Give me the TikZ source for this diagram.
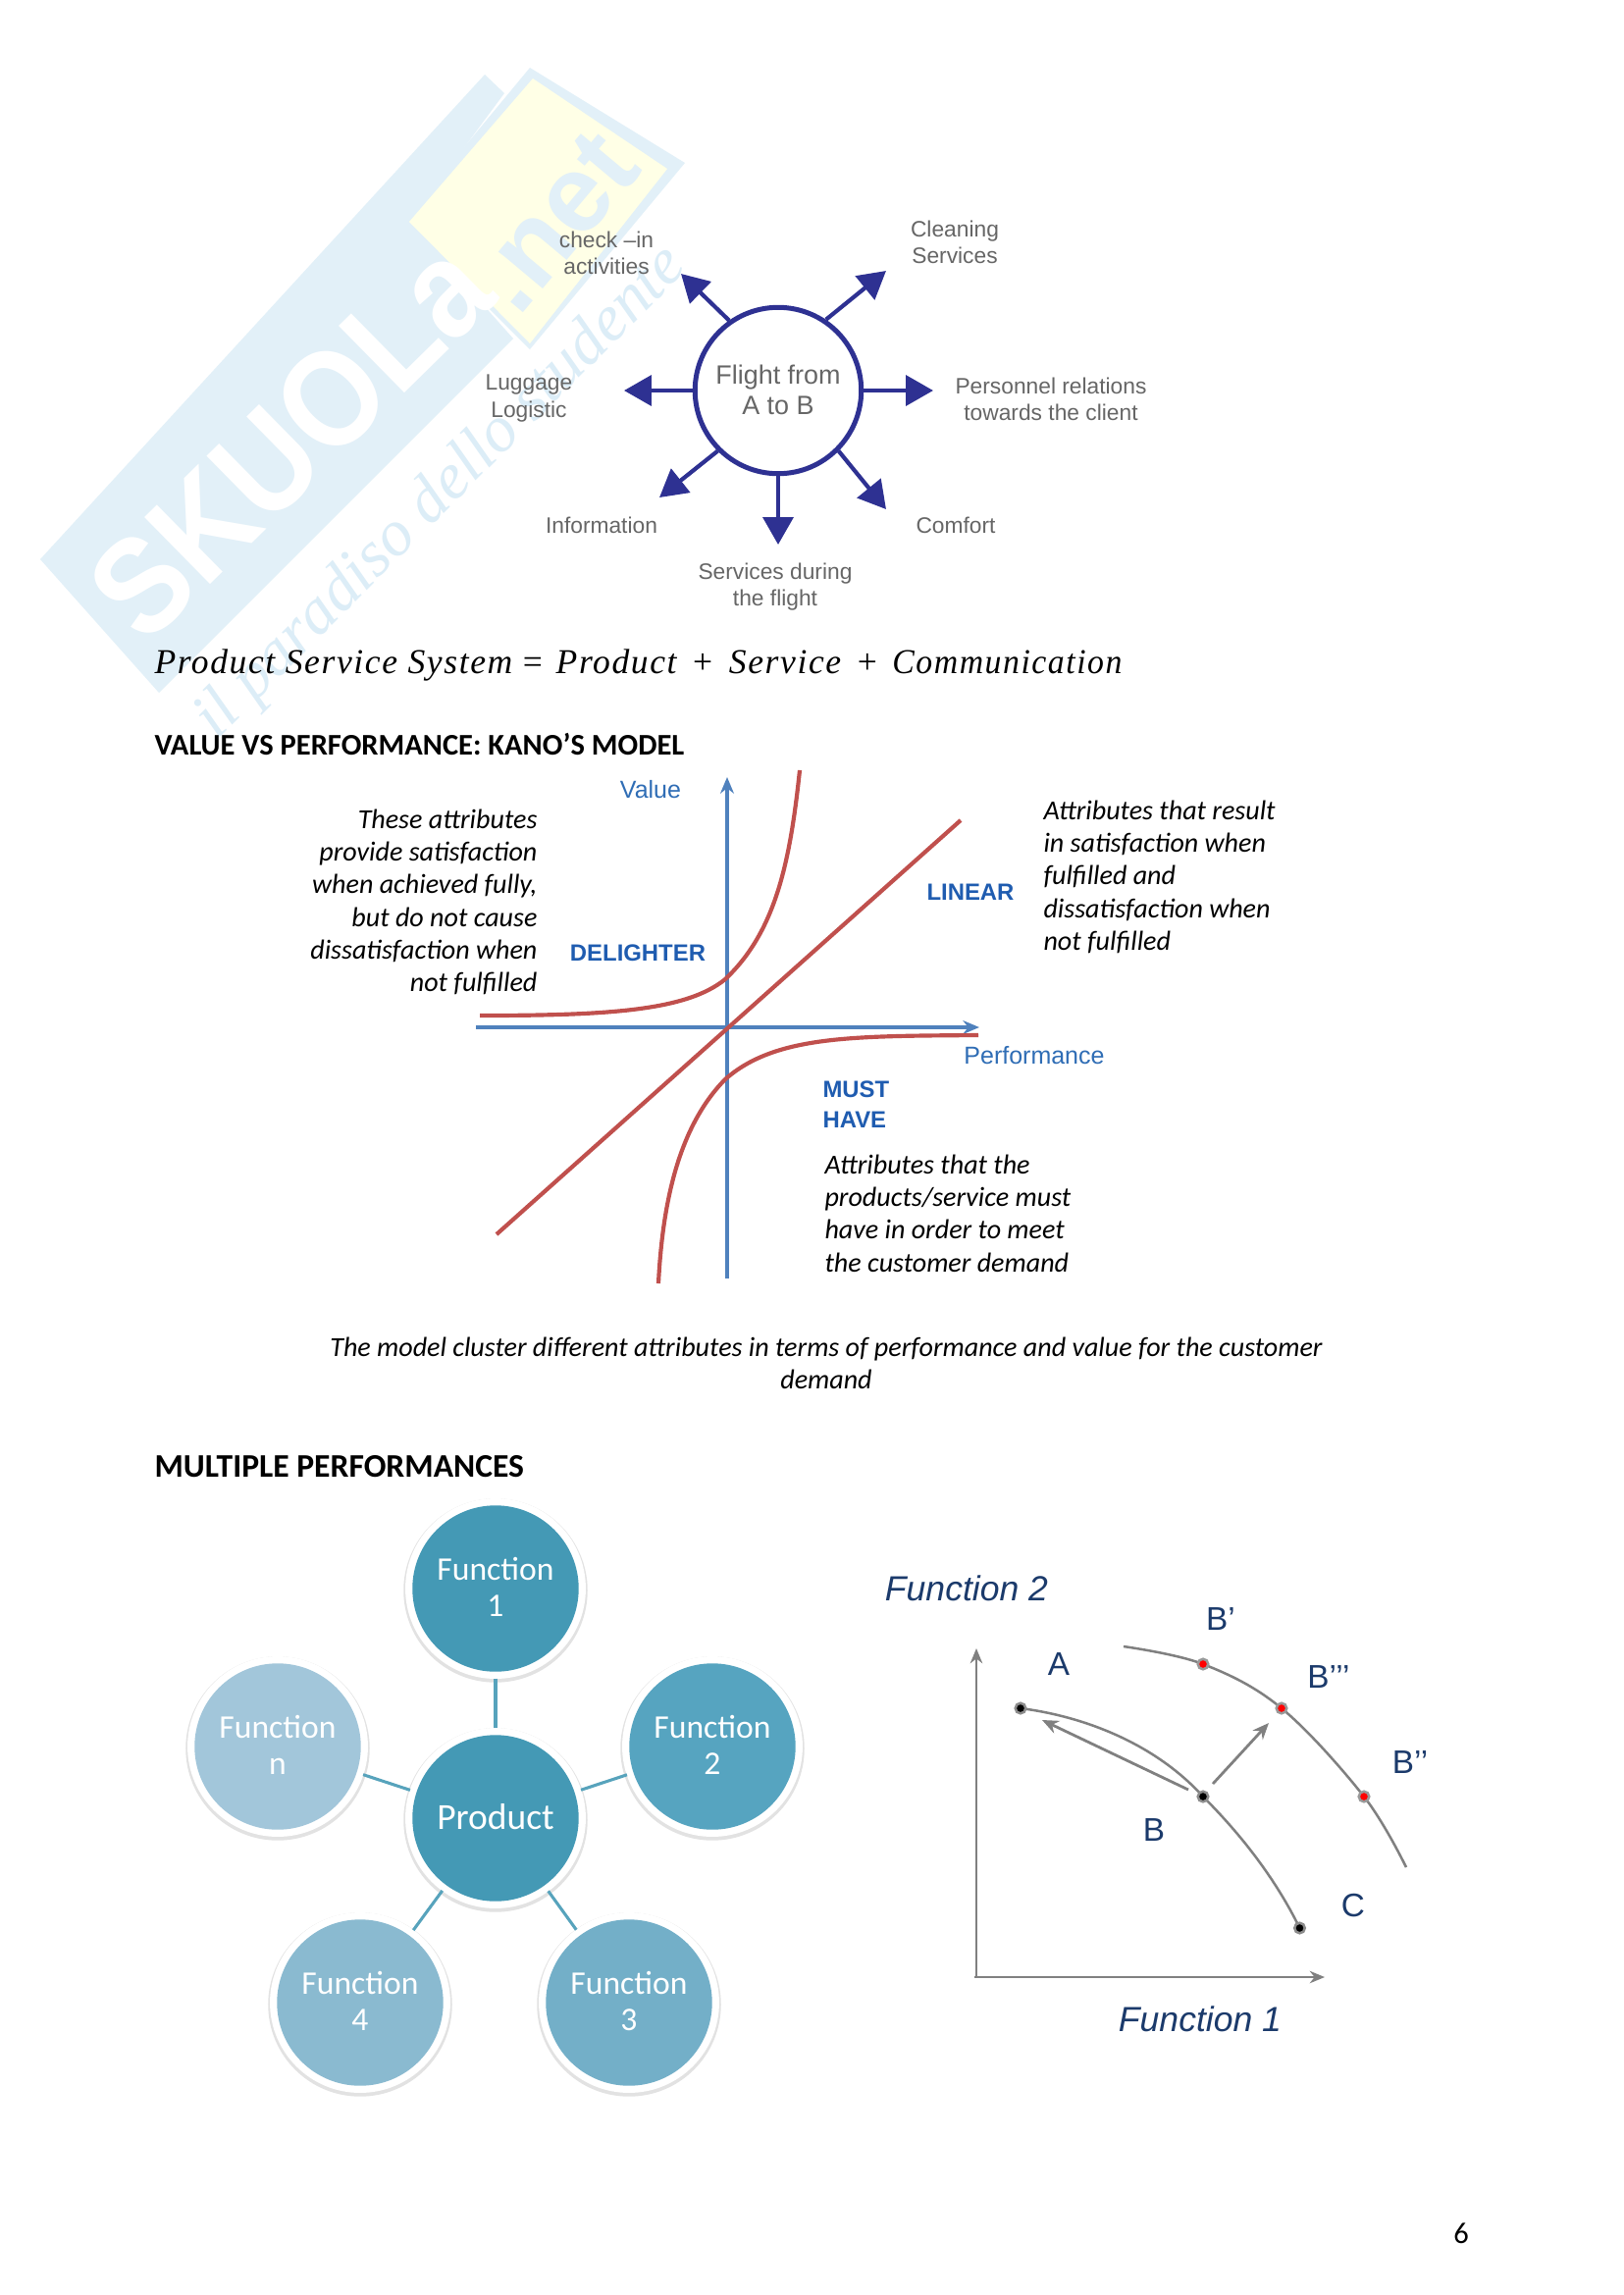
\documentclass[tikz,border=0pt]{standalone}
\usepackage{fontspec}
\usepackage{graphicx}
\setmainfont{Carlito}
\newfontfamily\arialf{Liberation Sans}
\newfontfamily\timesf{Liberation Serif}
\newfontfamily\formulaf[LetterSpace=4.5]{Liberation Serif}
\usetikzlibrary{arrows.meta}
\definecolor{wmblue}{HTML}{E2F0F8}
\definecolor{wmtext}{HTML}{DCEDF7}
\definecolor{wmyellow}{HTML}{FFFFE6}
\definecolor{navyarrow}{HTML}{2E3192}
\definecolor{graytext}{HTML}{666666}
\definecolor{kanoblue}{HTML}{4F81BD}
\definecolor{kanored}{HTML}{C0504D}
\definecolor{kanolabel}{HTML}{2F6DB5}
\definecolor{kanobold}{HTML}{1F5CB0}
\definecolor{chartgray}{HTML}{808080}
\definecolor{chartlabel}{HTML}{1B3A6B}
\definecolor{tealA}{HTML}{4499B5}
\definecolor{tealB}{HTML}{56A4C0}
\definecolor{tealC}{HTML}{73AFC8}
\definecolor{tealD}{HTML}{8ABAD0}
\definecolor{tealE}{HTML}{A2C6DA}
\definecolor{ringshade}{HTML}{E2E2E2}
\newcommand{\fnlab}[2]{\raisebox{1pt}{#1}\\\raisebox{1pt}{#2}}
\tikzset{
  flowtext/.style={font=\arialf\fontsize{8.2}{9.8}\selectfont, text=graytext, align=center, inner sep=0pt},
  hubnode/.style={circle, draw=navyarrow, line width=1.8pt, minimum size=61pt, inner sep=0pt, align=center,
     text=graytext, font=\arialf\fontsize{9.7}{11.2}\selectfont, fill=white},
  hubarrow/.style={draw=navyarrow, line width=1.5pt, -{Triangle[length=10pt,width=11pt]}},
  bodytext/.style={font=\itshape\fontsize{10.1}{12}\selectfont, text=black, inner sep=0pt},
  heading/.style={font=\bfseries\fontsize{11}{13}\selectfont, anchor=base west, inner sep=0pt},
  kaxis/.style={draw=kanoblue, line width=1.2pt, -{Stealth[length=6pt,width=5pt]}},
  kcurve/.style={draw=kanored, line width=1.5pt},
  klabel/.style={font=\arialf\fontsize{9}{11}\selectfont, text=kanolabel, inner sep=0pt},
  kbold/.style={font=\arialf\bfseries\fontsize{8.6}{11.3}\selectfont, text=kanobold, inner sep=0pt, align=left},
  funcnode/.style={circle, minimum size=61pt, inner sep=0pt, align=center, text=white,
     font=\fontsize{12.1}{13.2}\selectfont, outer sep=2.5pt,
     preaction={draw=ringshade, line width=6.5pt, transform canvas={yshift=-0.7pt}},
     preaction={draw=white, line width=5.2pt}},
  funclink/.style={draw=tealA!90, line width=1.1pt},
  chartaxis/.style={draw=chartgray, line width=.8pt, -{Stealth[length=5.5pt,width=4.5pt]}},
  chartcurve/.style={draw=chartgray, line width=.9pt},
  chartarrow/.style={draw=chartgray, line width=1pt, -{Stealth[length=6pt,width=5pt]}},
  blackdot/.style={circle, fill=black, draw=black!45, line width=.9pt, minimum size=3.8pt, inner sep=0pt},
  reddot/.style={circle, fill=red, draw=black!40, line width=.9pt, minimum size=3.8pt, inner sep=0pt},
  chartlet/.style={font=\arialf\fontsize{12}{14}\selectfont, text=chartlabel, inner sep=0pt},
  chartfun/.style={font=\arialf\itshape\fontsize{12.8}{14}\selectfont, text=chartlabel, inner sep=0pt},
}
\begin{document}
\begin{tikzpicture}[x=0.36pt,y=-0.36pt]
\useasboundingbox (0,0) rectangle (1654,2339);
\fill[white] (0,0) rectangle (1654,2339);

% watermark
\fill[wmblue] (41,570) -- (494,76) -- (514,95) -- (417,226) -- (523,345) -- (162,706) -- cycle;
\fill[wmblue] (540,69) -- (698,166) -- (540,356) -- (410,226) -- cycle;
\fill[wmyellow] (543,80) -- (680,172) -- (540,350) -- (417,226) -- cycle;
\node[rotate=44.5, xscale=.9, text=white, font=\arialf\bfseries\fontsize{50}{50}\selectfont, inner sep=0pt] (wmname) at (296,448) {SKUOLa};
\node[rotate=50, text=wmblue, font=\arialf\bfseries\fontsize{40}{40}\selectfont, inner sep=0pt] (wmnet) at (565,226) {.net};
\node[rotate=45, text=wmtext, font=\timesf\itshape\fontsize{24}{24}\selectfont, inner sep=0pt] (wmtag) at (450,503) {il paradiso dello studente};

% top diagram
\node[hubnode] (hub) at (793,398) {\raisebox{.6pt}{Flight from}\\\raisebox{.6pt}{A to B}};
\coordinate (tCheck) at (694,279);
\coordinate (tClean) at (903,276);
\coordinate (tRight) at (951,398);
\coordinate (tLeft) at (636,398);
\coordinate (tComfort) at (903,519);
\coordinate (tDown) at (793,555);
\coordinate (tInfo) at (672,507);
\draw[hubarrow] (hub.125) -- (tCheck);
\draw[hubarrow] (hub.56) -- (tClean);
\draw[hubarrow] (hub.east) -- (tRight);
\draw[hubarrow] (hub.west) -- (tLeft);
\draw[hubarrow] (hub.-45) -- (tComfort);
\draw[hubarrow] (hub.south) -- (tDown);
\draw[hubarrow] (hub.-135) -- (tInfo);
\node[flowtext] (lCheck) at (618,258) {check –in\\activities};
\node[flowtext] (lClean) at (973,247) {Cleaning\\Services};
\node[flowtext] (lPers) at (1071,407) {Personnel relations\\towards the client};
\node[flowtext] (lLug) at (539,406) {Luggage\\Logistic};
\node[flowtext] (lInfo) at (613,535) {Information};
\node[flowtext] (lServ) at (790,598) {Services during\\the flight};
\node[flowtext] (lComf) at (974,535) {Comfort};

% formula
\node[anchor=base west, inner sep=0pt, font=\formulaf\itshape\fontsize{12.8}{14}\selectfont] (formula) at (157,686)
 {Product Service System {\upshape=}\hspace{5pt}Product\hspace{6pt}{\upshape+}\hspace{6pt}Service\hspace{6pt}{\upshape+}\hspace{5.6pt}\scalebox{.95}[1]{Communication}};

% headings
\node[heading] (hKano) at (157,769) {VALUE VS PERFORMANCE: KANO’S MODEL};
\node[heading, font=\bfseries\fontsize{12.1}{13}\selectfont] (hMult) at (157,1505) {MULTIPLE PERFORMANCES};

% Kano
\coordinate (vBot) at (741,1303);
\coordinate (vTop) at (741,792);
\coordinate (hLeft) at (485,1047);
\coordinate (hRight) at (998,1047);
\draw[kaxis] (vBot) -- (vTop);
\draw[kaxis] (hLeft) -- (hRight);
\coordinate (linA) at (506,1258);
\coordinate (linB) at (979,836);
\draw[kcurve] (linA) -- (linB);
\draw[kcurve] (489,1035) .. controls (620,1035) and (700,1030) .. (739,998) .. controls (790,950) and (805,880) .. (815,785);
\draw[kcurve] (997,1055) .. controls (870,1056) and (790,1055) .. (739,1100) .. controls (690,1150) and (675,1230) .. (671,1308);
\node[klabel] (kValue) at (663,805) {Value};
\node[klabel] (kPerf) at (1054,1076) {Performance};
\node[kbold] (kDel) at (650,971) {DELIGHTER};
\node[kbold] (kLin) at (989,909) {LINEAR};
\node[kbold, anchor=north west] (kMust) at (838,1101) {MUST\\HAVE};
\node[bodytext, anchor=north east, align=right] (tDel) at (548,824) {These attributes\\provide satisfaction\\when achieved fully,\\but do not cause\\dissatisfaction when\\not fulfilled};
\node[bodytext, anchor=north west, align=left] (tLin) at (1063,815) {Attributes that result\\in satisfaction when\\fulfilled and\\dissatisfaction when\\not fulfilled};
\node[bodytext, anchor=north west, align=left] (tMust) at (840,1176) {Attributes that the\\products/service must\\have in order to meet\\the customer demand};
\node[bodytext, align=center, anchor=north] (tCap) at (842,1362) {The model cluster different attributes in terms of performance and value for the customer\\demand};

% function wheel
\node[funcnode, fill=tealA, font=\fontsize{13.5}{15}\selectfont] (prod) at (505,1853) {\raisebox{1pt}{Product}};
\node[funcnode, fill=tealA] (f1) at (505,1619) {\fnlab{Function}{1}};
\node[funcnode, fill=tealB] (f2) at (726,1780) {\fnlab{Function}{2}};
\node[funcnode, fill=tealC] (f3) at (641,2041) {\fnlab{Function}{3}};
\node[funcnode, fill=tealD] (f4) at (367,2041) {\fnlab{Function}{4}};
\node[funcnode, fill=tealE] (fn) at (283,1780) {\fnlab{Function}{n}};
\draw[funclink, line width=1.5pt] (f1) -- (prod);
\draw[funclink] (f2) -- (prod);
\draw[funclink] (f3) -- (prod);
\draw[funclink] (f4) -- (prod);
\draw[funclink] (fn) -- (prod);

% trade-off chart
\coordinate (org) at (993,2015);
\coordinate (yStart) at (995,2015);
\coordinate (yTop) at (995,1680);
\coordinate (xEnd) at (1350,2015);
\draw[chartaxis] (yStart) -- (yTop);
\draw[chartaxis] (org) -- (xEnd);
\coordinate (cA) at (1040,1741);
\coordinate (cB) at (1226,1831);
\coordinate (cC) at (1324.5,1965);
\coordinate (cB1) at (1226,1696);
\coordinate (cB3) at (1306,1741);
\coordinate (cB2) at (1390,1831);
\coordinate (upStart) at (1145,1678);
\coordinate (upEnd) at (1433,1903);
\draw[chartcurve] (cA) .. controls (1110,1750) and (1180,1780) .. (cB) .. controls (1265,1870) and (1300,1915) .. (cC);
\draw[chartcurve] plot[smooth, tension=.6] coordinates {(upStart) (cB1) (cB3) (cB2) (upEnd)};
\coordinate (aS1) at (1211,1824);
\coordinate (aE1) at (1062,1753);
\coordinate (aS2) at (1236,1818);
\coordinate (aE2) at (1293,1756);
\draw[chartarrow] (aS1) -- (aE1);
\draw[chartarrow] (aS2) -- (aE2);
\node[blackdot] (pA) at (cA) {};
\node[blackdot] (pB) at (cB) {};
\node[blackdot] (pC) at (cC) {};
\node[reddot] (pB1) at (cB1) {};
\node[reddot] (pB3) at (cB3) {};
\node[reddot] (pB2) at (cB2) {};
\node[chartfun] (fy) at (985,1619) {Function 2};
\node[chartfun] (fx) at (1223,2058) {Function 1};
\node[chartlet] (lB1) at (1244,1650) {B’};
\node[chartlet] (lA) at (1079,1696) {A};
\node[chartlet] (lB3) at (1354,1709) {B’’’};
\node[chartlet] (lB2) at (1437,1796) {B’’};
\node[chartlet] (lB) at (1176,1865) {B};
\node[chartlet] (lC) at (1379,1942) {C};

% page number
\node[inner sep=0pt, font=\fontsize{11}{13}\selectfont] (pg) at (1489,2276) {6};
\end{tikzpicture}
\end{document}
